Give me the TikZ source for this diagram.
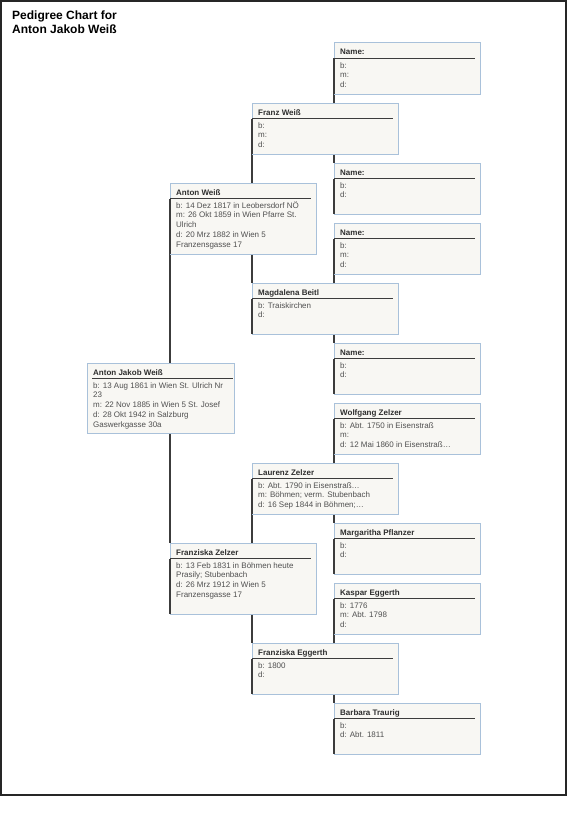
\documentclass[tikz,border=0pt]{standalone}
\usepackage{fontspec}
\setmainfont{Liberation Sans}
\usetikzlibrary{calc}
\pgfdeclarelayer{bg}
\pgfsetlayers{bg,main}
\definecolor{boxfill}{HTML}{F8F7F3}
\definecolor{boxedge}{HTML}{A9C1DA}
\definecolor{conn}{HTML}{3C3C3C}
\definecolor{bodytxt}{HTML}{505050}
\definecolor{hdrtxt}{HTML}{2E2E2E}
\tikzset{
  pbx/.style={draw=boxedge, fill=boxfill, line width=1pt, anchor=north west, inner sep=0pt, outer sep=0pt},
  hdr/.style={font=\fontsize{8}{9.75}\selectfont\bfseries, text=hdrtxt, inner sep=0pt, anchor=base west},
  bodyl/.style={font=\fontsize{8}{9.75}\selectfont, text=bodytxt, inner sep=0pt, anchor=base west},
  uline/.style={draw=conn, line width=1.4pt},
  connl/.style={draw=conn, line width=1.4pt},
}
\newcommand\pbox[7]{%
  \node[pbx, minimum width=#4pt, minimum height=#5pt] (#1) at (#2,#3) {};
  \node[hdr] (#1-h) at ([xshift=6pt,yshift=-12pt]#1.north west) {#6};
  \draw[uline] ([yshift=-15.5pt]#1.north west) -- ([xshift=-5pt,yshift=-15.5pt]#1.north east);
  \draw[uline] ([yshift=-15.5pt]#1.north west) -- (#1.south west);
  \foreach \t [count=\i] in {#7} {
    \node[bodyl] (#1-\i) at ([xshift=6pt,yshift={-25pt-(\i-1)*9.75pt}]#1.north west) {\t};
  }
}
\begin{document}
\begin{tikzpicture}[x=1pt,y=-1pt]
\useasboundingbox (0,0) rectangle (567,816);
\draw[line width=2.2pt, draw=black!85] (1.2,1.2) rectangle (565.6,795);
\node[font=\fontsize{12}{13}\selectfont\bfseries, anchor=base west, inner sep=0pt] (title1) at (12,20) {Pedigree Chart for};
\node[font=\fontsize{12}{13}\selectfont\bfseries, anchor=base west, inner sep=0pt] (title2) at (12,33.5) {Anton Jakob Weiß};

% root
\node[pbx, minimum width=147pt, minimum height=70pt] (root) at (87,363) {};
\node[hdr] (root-h) at ([xshift=6pt,yshift=-12pt]root.north west) {Anton Jakob Weiß};
\draw[uline] ([xshift=5pt,yshift=-15.5pt]root.north west) -- ([xshift=-1pt,yshift=-15.5pt]root.north east);
\foreach \t [count=\i] in {b: 13 Aug 1861 in Wien St. Ulrich Nr, 23, m: 22 Nov 1885 in Wien 5 St. Josef, d: 28 Okt 1942 in Salzburg, Gaswerkgasse 30a} {
  \node[bodyl] (root-\i) at ([xshift=6pt,yshift={-25pt-(\i-1)*9.75pt}]root.north west) {\t};
}

% generation 2
\pbox{aw}{170}{183}{146}{71}{Anton Weiß}{b: 14 Dez 1817 in Leobersdorf NÖ, m: 26 Okt 1859 in Wien Pfarre St., Ulrich, d: 20 Mrz 1882 in Wien 5, Franzensgasse 17}
\pbox{fz}{170}{543}{146}{71}{Franziska Zelzer}{b: 13 Feb 1831 in Böhmen heute, Prasily; Stubenbach, d: 26 Mrz 1912 in Wien 5, Franzensgasse 17}

% generation 3
\pbox{fw}{252}{103}{146}{51}{Franz Weiß}{b:, m:, d:}
\pbox{mb}{252}{283}{146}{51}{Magdalena Beitl}{b: Traiskirchen, d:}
\pbox{lz}{252}{463}{146}{51}{Laurenz Zelzer}{b: Abt. 1790 in Eisenstraß…, m: Böhmen; verm. Stubenbach, d: 16 Sep 1844 in Böhmen;…}
\pbox{fe}{252}{643}{146}{51}{Franziska Eggerth}{b: 1800, d:}

% generation 4
\pbox{n1}{334}{43}{146}{51}{Name:}{b:, m:, d:}
\pbox{n2}{334}{163}{146}{51}{Name:}{b:, d:}
\pbox{n3}{334}{223}{146}{51}{Name:}{b:, m:, d:}
\pbox{n4}{334}{343}{146}{51}{Name:}{b:, d:}
\pbox{wz}{334}{403}{146}{51}{Wolfgang Zelzer}{b: Abt. 1750 in Eisenstraß, m:, d: 12 Mai 1860 in Eisenstraß…}
\pbox{mp}{334}{523}{146}{51}{Margaritha Pflanzer}{b:, d:}
\pbox{ke}{334}{583}{146}{51}{Kaspar Eggerth}{b: 1776, m: Abt. 1798, d:}
\pbox{bt}{334}{703}{146}{51}{Barbara Traurig}{b:, d: Abt. 1811}

\begin{pgfonlayer}{bg}
\draw[connl] (aw.south west) -- (fz.north west);
\draw[connl] (fw.south west) -- (mb.north west);
\draw[connl] (lz.south west) -- (fe.north west);
\draw[connl] (n1.south west) -- (n2.north west);
\draw[connl] (n3.south west) -- (n4.north west);
\draw[connl] (wz.south west) -- (mp.north west);
\draw[connl] (ke.south west) -- (bt.north west);
\end{pgfonlayer}
\end{tikzpicture}
\end{document}
